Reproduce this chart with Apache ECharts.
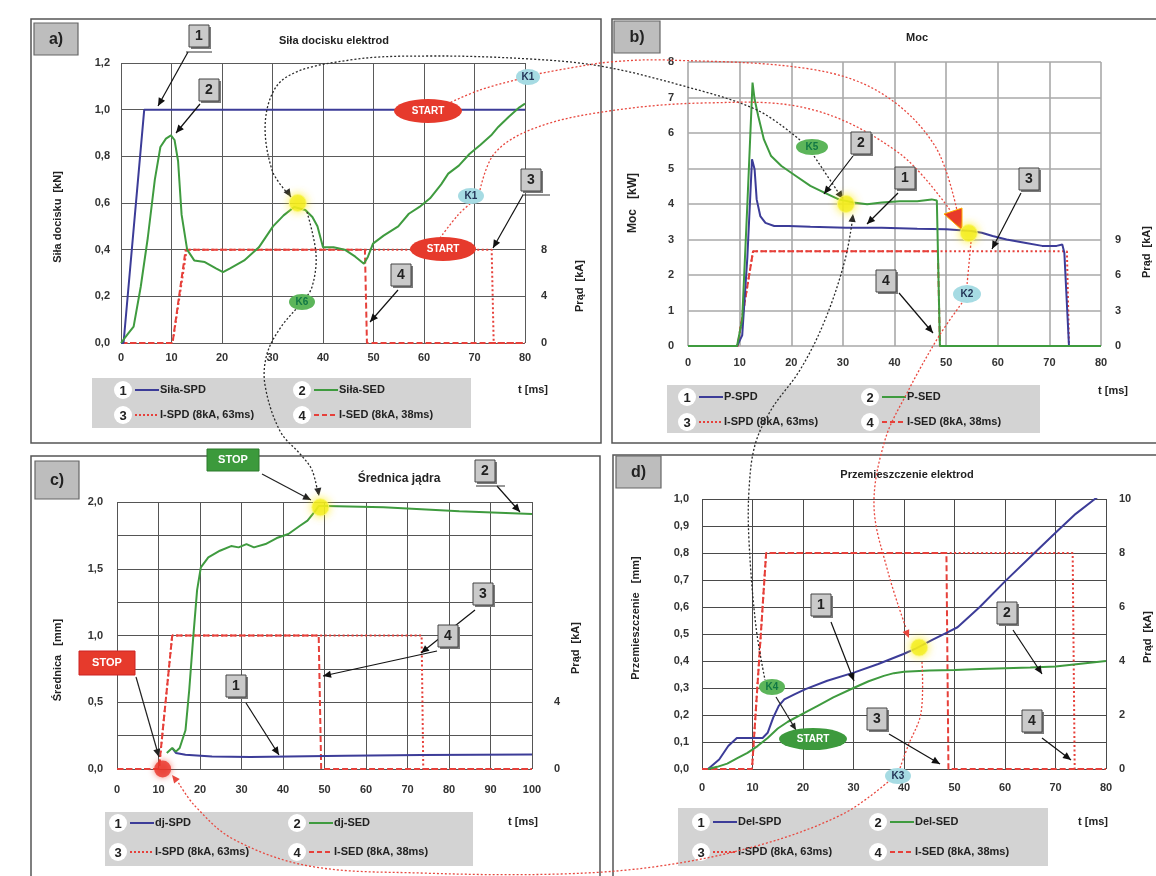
<!DOCTYPE html>
<html><head><meta charset="utf-8">
<script src="https://cdn.jsdelivr.net/npm/echarts@6/dist/echarts.min.js"></script>
<style>html,body{margin:0;padding:0;background:#fff}#c{width:1156px;height:876px}</style>
</head><body><div id="c"></div>
<script>
// ---------- DATA ----------
// Panel a: Siła docisku elektrod [kN]
const tA_spd = [0, 0.5, 4.6, 80];
const silaSPD = [0, 0.0, 1.0, 1.0];
const tA_sed = [0,1.4,2.5,3.9,5.3,6.7,7.8,8.9,9.9,10.6,11.3,12.0,13.1,14.5,16.6,18.8,20.2,21.6,24.4,27.3,30.1,32.2,34.3,36.5,37.9,38.9,40.0,42.1,44.3,46.4,48.1,48.9,49.9,52,54.9,57,59.1,61.2,63.4,64.8,66.9,69,71.2,73.3,74.7,76.8,78.9,80];
const silaSED = [0,0.04,0.07,0.24,0.45,0.70,0.84,0.876,0.89,0.87,0.78,0.55,0.40,0.354,0.347,0.32,0.304,0.32,0.354,0.41,0.50,0.547,0.583,0.57,0.54,0.50,0.41,0.41,0.40,0.37,0.34,0.37,0.426,0.46,0.50,0.554,0.583,0.62,0.68,0.726,0.76,0.81,0.85,0.89,0.926,0.97,1.01,1.026];
const tA_ispd = [0,10.2,13,73.4,73.8,80];
const iSPD_a  = [0,0,8,8,0,0];
const tA_ised = [0,10.2,12.8,48.3,48.7,80];
const iSED_a  = [0,0,8,8,0,0];

// Panel b: Moc [kW]
const tB_spd = [0,9.5,10.5,11.5,12.4,12.9,13.3,14,15,16.7,19.5,23.7,30.6,37.5,44.4,50,54.8,56.9,59,61.7,65.2,68.6,71.4,72.5,72.9,73.8,80];
const pSPD   = [0,0,0.3,2.5,5.26,4.98,4.13,3.66,3.47,3.38,3.38,3.36,3.33,3.33,3.3,3.29,3.24,3.19,3.1,3.0,2.91,2.82,2.82,2.86,2.63,0,0];
const tB_sed = [0,9.5,10.5,11.5,12.5,12.9,13.6,14.7,16.1,18.1,20.9,23.7,26.4,29.2,32,34.7,37.5,41,44.4,47.2,48.2,48.8,80];
const pSED   = [0,0,0.75,4.0,7.42,6.95,6.48,5.82,5.35,5.07,4.79,4.51,4.32,4.13,4.04,3.99,4.04,4.08,4.08,4.13,4.1,0,0];
const tB_ispd = [0,9.6,12.6,73.4,73.8,80];
const iSPD_b  = [0,0,8,8,0,0];
const tB_ised = [0,9.6,12.6,48.4,48.8,80];
const iSED_b  = [0,0,8,8,0,0];

// Panel c: Średnica jądra [mm]
const tC_spd = [13.3,14.2,16.5,22.9,32.1,41.3,55,73.4,100];
const djSPD  = [0.157,0.12,0.107,0.094,0.089,0.094,0.099,0.104,0.109];
const tC_sed = [12.0,13.3,14.2,15.1,16.5,17.4,18.3,19.3,20.2,22,24.8,27.5,29.3,31.2,33,35.8,38.5,41.3,44,45.9,47.7,48.6,50.4,64.2,82.5,100];
const djSED  = [0.12,0.157,0.13,0.157,0.29,0.59,0.96,1.34,1.51,1.585,1.635,1.67,1.66,1.685,1.66,1.685,1.73,1.76,1.82,1.86,1.93,1.97,1.97,1.96,1.93,1.91];
const tC_ispd = [0,10.1,13.3,73.4,73.8,100];
const iSPD_c  = [0,0,8,8,0,0];
const tC_ised = [0,10.1,13.3,48.6,49.2,100];
const iSED_c  = [0,0,8,8,0,0];

// Panel d: Przemieszczenie elektrod [mm]
const tD_spd = [1.2,3.4,5.2,6.9,9.1,12,13,14.1,15.2,16.3,18.4,20.5,24.8,30.2,34.9,39.9,42.4,45.6,48.5,50.6,55,60,65,70,74,77.8,80];
const delSPD = [0,0.035,0.085,0.115,0.115,0.115,0.134,0.19,0.234,0.258,0.277,0.296,0.327,0.358,0.389,0.426,0.447,0.478,0.505,0.525,0.6,0.695,0.785,0.875,0.945,1.0,1.03];
const tD_sed = [1.2,3,5,7,9,11,13,15,17,20,23,26,30,33,36,38,40,45,50,55,60,65,70,75,80];
const delSED = [0,0.008,0.02,0.04,0.06,0.085,0.115,0.15,0.175,0.205,0.235,0.265,0.3,0.325,0.345,0.355,0.36,0.365,0.367,0.37,0.373,0.376,0.38,0.39,0.40];
const tD_ispd = [0,9.9,12.7,73.4,73.8,80];
const iSPD_d  = [0,0,8,8,0,0];
const tD_ised = [0,9.9,12.7,48.4,48.8,80];
const iSED_d  = [0,0,8,8,0,0];

// Highlighted points
const markA = [[35,0.6]];
const markB = [[30.6,4.0],[54.4,3.18]];
const markC = [[49,1.96]];
const stopC = [[11,0]];
const markD = [[43,0.45]];

// Texts
const titles = ['Siła docisku elektrod','Moc','Średnica jądra','Przemieszczenie elektrod'];
const panelTags = ['a)','b)','c)','d)'];
const leftNames = ['Siła docisku  [kN]','Moc   [kW]','Średnica   [mm]','Przemieszczenie   [mm]'];
const rightName = 'Prąd  [kA]';
const legendTexts = [
  ['Siła-SPD','Siła-SED','I-SPD (8kA, 63ms)','I-SED (8kA, 38ms)'],
  ['P-SPD','P-SED','I-SPD (8kA, 63ms)','I-SED (8kA, 38ms)'],
  ['dj-SPD','dj-SED','I-SPD (8kA, 63ms)','I-SED (8kA, 38ms)'],
  ['Del-SPD','Del-SED','I-SPD (8kA, 63ms)','I-SED (8kA, 38ms)']
];

// ---------- STYLE / LAYOUT ----------
const FONT = 'Liberation Sans, Arial, sans-serif';
const BLUE='#3c3c98', GREEN='#3f9b3f', RED='#e6403a';
const grids=[{left:121,top:63,width:404,height:280},{left:688,top:62,width:413,height:284},{left:117,top:502,width:415,height:267},{left:702,top:499,width:404,height:270}];
const gridColors=['#5a5a5a','#a9a9a9','#555','#4a4a4a'];
const gridWidths=[1,1.6,1,1];
const xMax=[80,80,100,80];
const xMargin=[9,11,15,13];
const lMargin=[11,14,14,13];
const rMargin=[16,14,22,13];
const leftY=[
  {max:1.2,interval:0.2,fmt:v=>v.toFixed(1).replace('.',',')},
  {max:8,interval:1,fmt:v=>String(v)},
  {max:2,interval:0.25,fmt:v=>(Math.abs(v*2-Math.round(v*2))<1e-6)?v.toFixed(1).replace('.',','):''},
  {max:1,interval:0.1,fmt:v=>v.toFixed(1).replace('.',',')}
];
const rightY=[{max:24,interval:4,show:8},{max:24,interval:3,show:9},{max:16,interval:4,show:4},{max:10,interval:2,show:10}];
const lab={color:'#333',fontFamily:FONT,fontWeight:'bold',fontSize:11};

function pairs(t,v){return t.map((x,i)=>[x,v[i]]);}

const xAxis=grids.map((g,i)=>({type:'value',gridIndex:i,min:0,max:xMax[i],interval:10,
  axisLine:{show:false},axisTick:{show:false},
  splitLine:{show:true,lineStyle:{color:gridColors[i],width:gridWidths[i]}},
  axisLabel:Object.assign({},lab,{margin:xMargin[i]})}));
const yAxis=[];
grids.forEach((g,i)=>{
  yAxis.push({type:'value',gridIndex:i,position:'left',min:0,max:leftY[i].max,interval:leftY[i].interval,
    axisLine:{show:false},axisTick:{show:false},
    splitLine:{show:true,lineStyle:{color:gridColors[i],width:gridWidths[i]}},
    axisLabel:Object.assign({},lab,{margin:lMargin[i],formatter:leftY[i].fmt})});
  yAxis.push({type:'value',gridIndex:i,position:'right',min:0,max:rightY[i].max,interval:rightY[i].interval,
    axisLine:{show:false},axisTick:{show:false},splitLine:{show:false},
    axisLabel:Object.assign({},lab,{margin:rMargin[i],formatter:v=>v<=rightY[i].show?String(v):''})});
});

const panelData=[
  {spd:[tA_spd,silaSPD],sed:[tA_sed,silaSED],ispd:[tA_ispd,iSPD_a],ised:[tA_ised,iSED_a]},
  {spd:[tB_spd,pSPD],sed:[tB_sed,pSED],ispd:[tB_ispd,iSPD_b],ised:[tB_ised,iSED_b]},
  {spd:[tC_spd,djSPD],sed:[tC_sed,djSED],ispd:[tC_ispd,iSPD_c],ised:[tC_ised,iSED_c]},
  {spd:[tD_spd,delSPD],sed:[tD_sed,delSED],ispd:[tD_ispd,iSPD_d],ised:[tD_ised,iSED_d]}
];
const series=[];
panelData.forEach((p,i)=>{
  const base={type:'line',xAxisIndex:i,showSymbol:false,symbol:'none',animation:false,clip:true};
  series.push(Object.assign({},base,{yAxisIndex:2*i+1,data:pairs(p.ispd[0],p.ispd[1]),z:3,lineStyle:{color:RED,width:2,type:[2,2.5]}}));
  series.push(Object.assign({},base,{yAxisIndex:2*i+1,data:pairs(p.ised[0],p.ised[1]),z:3,lineStyle:{color:RED,width:2,type:[6,3]}}));
  series.push(Object.assign({},base,{yAxisIndex:2*i,data:pairs(p.spd[0],p.spd[1]),z:4,lineStyle:{color:BLUE,width:2}}));
  series.push(Object.assign({},base,{yAxisIndex:2*i,data:pairs(p.sed[0],p.sed[1]),z:5,lineStyle:{color:GREEN,width:2}}));
});
const yellow={type:'scatter',symbolSize:17,z:80,animation:false,itemStyle:{color:'#f3ee1f',borderColor:'#fbf87a',borderWidth:1,shadowBlur:8,shadowColor:'rgba(255,235,0,0.9)'}};
series.push(Object.assign({},yellow,{xAxisIndex:0,yAxisIndex:0,data:markA}));
series.push(Object.assign({},yellow,{xAxisIndex:1,yAxisIndex:2,data:markB}));
series.push(Object.assign({},yellow,{xAxisIndex:2,yAxisIndex:4,data:markC}));
series.push(Object.assign({},yellow,{xAxisIndex:3,yAxisIndex:6,data:markD}));
series.push({type:'scatter',xAxisIndex:2,yAxisIndex:4,data:stopC,symbolSize:17,z:80,animation:false,itemStyle:{color:'#e8352a',shadowBlur:6,shadowColor:'rgba(240,60,40,0.8)'}});

// ---------- DECORATIONS ----------
const G=[];
function txt(x,y,s,o){o=o||{};G.push({type:'text',x:x,y:y,rotation:o.rot||0,z:o.z||55,silent:true,
  style:{text:s,x:0,y:0,align:o.align||'center',verticalAlign:'middle',fill:o.color||'#222',
  fontFamily:FONT,fontWeight:o.weight||'bold',fontSize:o.size||11}});}
function rect(x,y,w,h,fill,stroke,lw,z,r){G.push({type:'rect',z:z||50,silent:true,shape:{x:x,y:y,width:w,height:h,r:r||0},style:{fill:fill||null,stroke:stroke||null,lineWidth:lw||1}});}
function line(x1,y1,x2,y2,color,w,dash,z){G.push({type:'line',z:z||60,silent:true,shape:{x1:x1,y1:y1,x2:x2,y2:y2},style:{stroke:color,lineWidth:w||1,lineDash:dash||null}});}
function head(x1,y1,x2,y2,color,size){const a=Math.atan2(y2-y1,x2-x1),s=size||7,w=s*0.45;
  G.push({type:'polygon',z:62,silent:true,shape:{points:[[x2,y2],[x2-s*Math.cos(a)+w*Math.sin(a),y2-s*Math.sin(a)-w*Math.cos(a)],[x2-s*Math.cos(a)-w*Math.sin(a),y2-s*Math.sin(a)+w*Math.cos(a)]]},style:{fill:color}});}
function arrow(x1,y1,x2,y2,color,w,size){line(x1,y1,x2,y2,color||'#111',w||1.2);head(x1,y1,x2,y2,color||'#111',size||8);}
function curve(pts,color,w,z){G.push({type:'polyline',z:z||58,silent:true,shape:{points:pts,smooth:0.35},style:{stroke:color,lineWidth:w||1.3,lineDash:[2,2],fill:null}});}
function numBox(cx,cy,n){rect(cx-9,cy-9,20,22,'#7a7a7a',null,1,64);rect(cx-11,cy-11,20,22,'#cacaca','#444',1,65);txt(cx-1,cy,n,{size:14,z:66});}
function ell(cx,cy,rx,ry,fill,t,tc,stroke){G.push({type:'circle',z:63,silent:true,x:cx,y:cy,scaleY:ry/rx,shape:{cx:0,cy:0,r:rx},style:{fill:fill,stroke:stroke||null,lineWidth:1}});txt(cx,cy,t,{color:tc,size:10,z:64});}

// panel frames and tags
rect(31,19,570,424,null,'#555',1.5,1);
rect(612,19,560,424,null,'#555',1.5,1);
rect(31,456,569,430,null,'#555',1.5,1);
rect(613,455,560,430,null,'#555',1.5,1);
const tagBoxes=[[34,23,44,32],[614,21,46,32],[35,461,44,38],[616,456,45,32]];
tagBoxes.forEach((b,i)=>{rect(b[0],b[1],b[2],b[3],'#bdbdbd','#666',1.2,20);txt(b[0]+b[2]/2,b[1]+b[3]/2+1,panelTags[i],{size:16,z:21});});

// titles
const titlePos=[[334,41],[917,38],[399,479],[907,475]];
titlePos.forEach((p,i)=>txt(p[0],p[1],titles[i],{size:i===2?12:11,weight:i===2?'bold':'bold'}));

// axis names
const leftNamePos=[[58,217],[633,203],[58,660],[636,618]];
leftNamePos.forEach((p,i)=>txt(p[0],p[1],leftNames[i],{rot:Math.PI/2,size:i===1?12:11}));
[[580,286],[1147,252],[576,648],[1148,637]].forEach(p=>txt(p[0],p[1],rightName,{rot:Math.PI/2,size:11}));
[[533,390],[1113,391],[523,822],[1093,822]].forEach(p=>txt(p[0],p[1],'t [ms]',{size:11}));

// legends
const legendGeo=[
  {r:[92,378,379,50],y1:390,y2:415,c1:123,c2:302},
  {r:[667,385,373,48],y1:397,y2:422,c1:687,c2:870},
  {r:[105,812,368,54],y1:823,y2:852,c1:118,c2:297},
  {r:[678,808,370,58],y1:822,y2:852,c1:701,c2:878}
];
legendGeo.forEach((L,i)=>{
  rect(L.r[0],L.r[1],L.r[2],L.r[3],'#d3d3d3',null,1,10);
  const items=[[L.c1,L.y1,'1',BLUE,null],[L.c2,L.y1,'2',GREEN,null],[L.c1,L.y2,'3',RED,[2,2]],[L.c2,L.y2,'4',RED,[5,3]]];
  items.forEach((it,k)=>{
    G.push({type:'circle',z:12,silent:true,shape:{cx:it[0],cy:it[1],r:9},style:{fill:'#fff'}});
    txt(it[0],it[1]+1,it[2],{size:13,z:13});
    line(it[0]+12,it[1],it[0]+36,it[1],it[3],2,it[4],13);
    txt(it[0]+37,it[1],legendTexts[i][k],{align:'left',size:11,z:13});
  });
});

// connectors (dotted curves)
const BK='#2a2a2a';
curve([[291,197],[272,170],[266,115],[285,78],[350,60],[430,56],[530,59],[600,66],[680,85],[757,110],[800,140]],BK);
head(270,165,291,197,BK,8);
curve([[307,212],[316,254],[312,287],[302,302],[281,327],[267,354],[265,385],[280,431],[301,455],[312,470],[318,494]],BK);
head(315,470,319,496,BK,8);
curve([[812,153],[842,198]],BK); head(820,165,843,199,BK,8);
curve([[853,216],[845,260],[825,320],[800,370],[771,410],[755,445],[749,490],[749,541],[756,627],[765,680]],BK);
head(850,240,853,214,BK,8);
arrow(776,697,796,730,'#222',1.2,7);
const RD='#e8483f';
curve([[447,104],[480,90],[519,79]],RD);
curve([[532,75],[570,68],[610,62],[666,60],[810,69],[881,93],[935,146],[958,215]],RD);
curve([[440,238],[458,215],[471,203]],RD);
curve([[480,190],[494,154],[530,130],[596,113],[703,103],[810,109],[899,153],[950,210]],RD);
G.push({type:'polygon',z:62,silent:true,shape:{points:[[944,214],[962,208],[962,230]]},style:{fill:'#e83a2a',stroke:'#ffb000',lineWidth:1}});
curve([[971,242],[967,285]],RD);
curve([[962,303],[939,336],[907,393],[885,440],[874,506],[888,572],[906,628]],RD);
head(895,605,909,638,RD,8);
curve([[922,662],[921,713],[908,746],[900,768]],RD);
curve([[888,782],[843,814],[760,845],[660,866],[560,874],[420,873],[309,866],[233,839],[195,806],[178,782]],RD);
head(190,798,172,775,RD,8);

// markers / ellipses
ell(428,111,34,12,'#e63a2c','START','#fff');
ell(443,249,33,12,'#e63a2c','START','#fff');
ell(528,77,12,8,'#a6dbe3','K1','#235');
ell(471,196,13,8,'#a6dbe3','K1','#235');
ell(302,302,13,8,'#5cb55a','K6','#174');
ell(812,147,16,8,'#5cb55a','K5','#174');
ell(967,294,14,9,'#a6dbe3','K2','#235');
ell(772,687,13,8,'#5cb55a','K4','#174');
ell(813,739,34,11,'#3d9a3d','START','#fff');
ell(898,776,13,8,'#a6dbe3','K3','#235');
// STOP boxes
rect(207,449,52,22,'#3c9a3c','#2d7a2d',1,63); txt(233,460,'STOP',{color:'#fff',size:11,z:64});
arrow(262,474,311,500,'#222',1.2,8);
rect(79,651,56,24,'#e63a2c','#c22',1,63); txt(107,663,'STOP',{color:'#fff',size:11,z:64});
arrow(136,677,159,757,'#222',1.2,8);

// numbered callouts
function callout(bx,by,n,x1,y1,x2,y2,ul){numBox(bx,by,n);if(ul)line(ul[0],ul[1],ul[2],ul[1],'#333',1,null,61);arrow(x1,y1,x2,y2,'#111',1.2,8);}
callout(200,36,'1',188,52,158,106,[186,52,212]);
callout(210,90,'2',200,104,176,133);
callout(532,180,'3',523,195,493,248,[522,195,550]);
callout(402,275,'4',398,290,370,322);
callout(862,143,'2',853,156,824,194);
callout(906,178,'1',898,193,867,224);
callout(1030,179,'3',1021,193,992,249);
callout(887,281,'4',899,293,933,333);
callout(486,471,'2',497,486,520,512,[476,486,505]);
callout(484,594,'3',475,610,421,653);
callout(449,636,'4',437,651,323,676);
callout(237,686,'1',246,703,279,755);
callout(822,605,'1',831,622,854,681);
callout(1008,613,'2',1013,630,1042,674);
callout(878,719,'3',889,734,940,764);
callout(1033,721,'4',1042,738,1071,760);

const chart=echarts.init(document.getElementById('c'),null,{renderer:'canvas'});
chart.setOption({
  animation:false,
  backgroundColor:'#ffffff',
  grid:grids,
  xAxis:xAxis,
  yAxis:yAxis,
  series:series,
  graphic:{elements:G}
});
</script></body></html>
